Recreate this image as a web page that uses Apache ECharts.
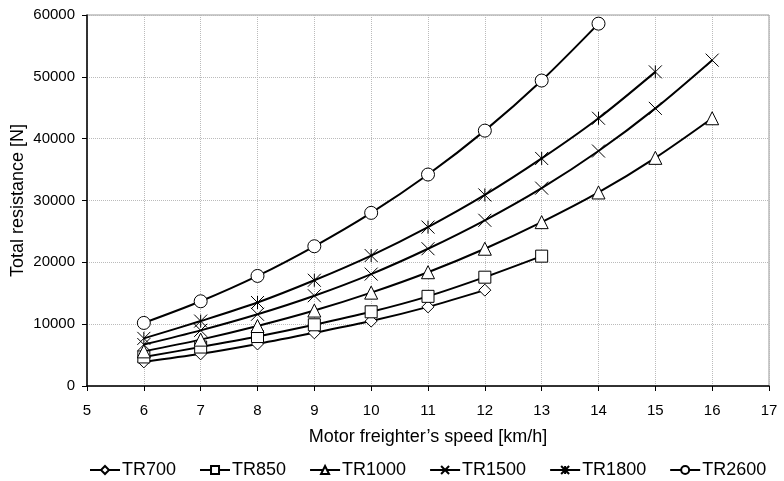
<!DOCTYPE html>
<html>
<head>
    <meta charset="utf-8">
    <title>Total resistance</title>
    <script src="https://cdnjs.cloudflare.com/ajax/libs/echarts/6.0.0/echarts.min.js"></script>
    <style>
        html, body { margin: 0; padding: 0; background: #fff; }
        #chart { width: 784px; height: 481px; }
    </style>
</head>
<body>
    <div id="chart"></div>
    <script>
        // speeds [km/h]
        var speeds = [6, 7, 8, 9, 10, 11, 12, 13, 14, 15, 16];

        // total resistance [N]
        var tr700  = [3900, 5200, 6800, 8600, 10500, 12800, 15500];
        var tr850  = [4700, 6300, 8000, 9900, 12000, 14500, 17600, 21000];
        var tr1000 = [5600, 7500, 9700, 12200, 15100, 18400, 22200, 26500, 31300, 36900, 43300];
        var tr1500 = [6700, 9000, 11600, 14600, 18100, 22200, 26800, 32000, 38000, 44900, 52700];
        var tr1800 = [7700, 10500, 13500, 17100, 21100, 25700, 30900, 36800, 43300, 50800];
        var tr2600 = [10200, 13700, 17800, 22600, 28000, 34200, 41300, 49400, 58600];

        var names = ['TR700', 'TR850', 'TR1000', 'TR1500', 'TR1800', 'TR2600'];
        var values = [tr700, tr850, tr1000, tr1500, tr1800, tr2600];
        var symbols = [
            'diamond',
            'rect',
            'triangle',
            'path://M0,0L10,10M10,0L0,10',
            'path://M0,0L10,10M10,0L0,10M5,0L5,10',
            'circle'
        ];
        var sizes = [12, 12, 13, 13, 13, 13];

        var chart = echarts.init(document.getElementById('chart'));

        var series = names.map(function (n, i) {
            return {
                name: n,
                type: 'line',
                smooth: 0.3,
                symbol: symbols[i],
                symbolSize: sizes[i],
                showAllSymbol: true,
                lineStyle: { color: '#000', width: 2 },
                itemStyle: { color: '#fff', borderColor: '#000', borderWidth: 1 },
                emphasis: { disabled: true },
                data: values[i].map(function (v, k) { return [speeds[k], v]; })
            };
        });

        var font = 'Liberation Sans, Arial, sans-serif';

        chart.setOption({
            animation: false,
            textStyle: { fontFamily: font, color: '#000' },
            grid: {
                left: 87, right: 15, top: 15, bottom: 95,
                outerBoundsMode: 'none',
                containLabel: false,
                show: true, borderColor: '#999', borderWidth: 1
            },
            legend: {
                top: 461,
                left: 89,
                padding: 0,
                itemGap: 23,
                itemWidth: 30,
                itemHeight: 10,
                textStyle: { fontSize: 18, color: '#000', fontFamily: font, padding: [0, 0, 0, -3] },
                data: names
            },
            xAxis: {
                type: 'value',
                min: 5, max: 17, interval: 1,
                name: 'Motor freighter\u2019s speed [km/h]',
                nameLocation: 'middle',
                nameGap: 42,
                nameMoveOverlap: false,
                nameTextStyle: { fontSize: 18, color: '#000' },
                axisLine: { lineStyle: { color: '#000', width: 1.5 } },
                axisTick: { show: true, length: 5, lineStyle: { color: '#000' } },
                axisLabel: { fontSize: 15, color: '#000', margin: 17 },
                splitLine: { show: true, lineStyle: { color: '#bbb', type: 'dotted' } }
            },
            yAxis: {
                type: 'value',
                min: 0, max: 60000, interval: 10000,
                name: 'Total resistance [N]',
                nameLocation: 'middle',
                nameGap: 60,
                nameMoveOverlap: false,
                nameTextStyle: { fontSize: 18, color: '#000' },
                axisLine: { show: true, lineStyle: { color: '#000', width: 1.5 } },
                axisTick: { show: true, length: 5, lineStyle: { color: '#000' } },
                axisLabel: { fontSize: 15, color: '#000', margin: 12, formatter: function (v) { return String(v); } },
                splitLine: { show: true, lineStyle: { color: '#bbb', type: 'dotted' } }
            },
            series: series
        });
    </script>
</body>
</html>
